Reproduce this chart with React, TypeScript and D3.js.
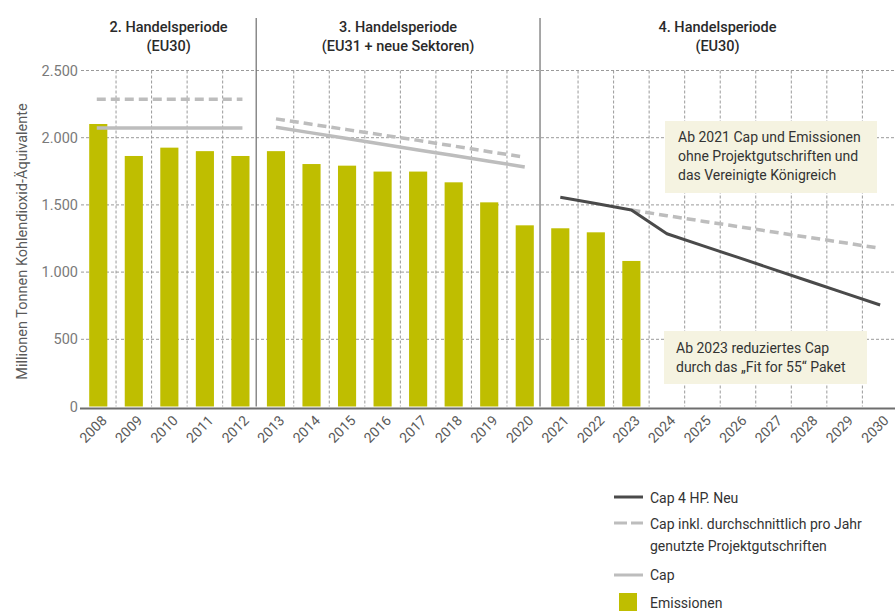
import React from "react";
import * as d3 from "d3";

// Jahre und Werte (Mio. t CO2-Äq.)
const years = d3.range(2008, 2031).map(String);
const emissionYears = d3.range(2008, 2024).map(String);
const emissions = [2102, 1864, 1926, 1900, 1864, 1900, 1804, 1792, 1748, 1748, 1668, 1519, 1348, 1326, 1296, 1083];

// 2. Handelsperiode
const capP2Years = ["2008", "2012"];
const capP2 = [2072, 2072];
const capCreditsP2 = [2286, 2286];

// 3. Handelsperiode
const p3Years = ["2013", "2014", "2015", "2016", "2017", "2018", "2019", "2020"];
const capP3 = [2078, 2036, 1994, 1952, 1909, 1867, 1825, 1782];
const capCreditsP3 = [2140, 2100, 2060, 2020, 1980, 1938, 1896, 1855];

// 4. Handelsperiode
const p4Years = ["2021", "2022", "2023", "2024", "2025", "2026", "2027", "2028", "2029", "2030"];
const capNewP4 = [1557, 1510, 1462, 1285, 1197, 1109, 1020, 932, 843, 755];
const p4CreditYears = ["2023", "2024", "2025", "2026", "2027", "2028", "2029", "2030"];
const capCreditsP4 = [1462, 1420, 1379, 1339, 1298, 1258, 1218, 1177];

const yTicks = [0, 500, 1000, 1500, 2000, 2500];
const periodBreaks = ["2013", "2021"];

const W = 895;
const H = 611;
const FONT = "Roboto, 'DejaVu Sans', sans-serif";

const C_BAR = "#bfbe00";
const C_CAP = "#bdbdbd";
const C_NEW = "#4a4a4a";
const C_GRID = "#9a9a9a";
const C_BOX = "#f5f3e1";

export default function App() {
  const x = d3.scaleBand<string>().domain(years).range([80.5, 80.5 + 23 * 35.54]).padding(0);
  const y = d3.scaleLinear().domain([0, 2500]).range([406.5, 70.5]);
  const bw = x.bandwidth();
  const cx = (yr: string) => (x(yr) as number) + bw / 2;
  const barW = bw * 0.51;

  const line = (ys: string[], vs: number[]) =>
    d3.line<number>().x((_, i) => cx(ys[i])).y((v) => y(v))(vs) as string;

  // Linien der 2. Periode leicht über die Balkenmitte hinaus
  const p2Line = (vs: number[]) =>
    d3.line<number>().x((_, i) => (i === 0 ? cx(capP2Years[0]) - 1.5 : cx(capP2Years[1]) + 2)).y((v) => y(v))(vs) as string;

  const left = 81;
  const right = W;

  const headers = [
    { l1: "2. Handelsperiode", l2: "(EU30)", x0: left, x1: (x("2013") as number) - 2 },
    { l1: "3. Handelsperiode", l2: "(EU31 + neue Sektoren)", x0: (x("2013") as number) - 2, x1: (x("2021") as number) - 2.5 },
    { l1: "4. Handelsperiode", l2: "(EU30)", x0: (x("2021") as number) - 2.5, x1: right },
  ];

  return (
    <svg width={W} height={H} style={{ position: "absolute", left: 0, top: 0, background: "#fff" }} fontFamily={FONT}>
      {/* horizontale Gitterlinien */}
      {yTicks.filter((t) => t > 0).map((t) => (
        <line key={t} x1={left} x2={right} y1={y(t)} y2={y(t)} stroke={C_GRID} strokeWidth={1} strokeDasharray="3,2" />
      ))}
      {/* vertikale Gitterlinien zwischen den Jahren */}
      {years.slice(1).filter((yr) => !periodBreaks.includes(yr)).map((yr) => (
        <line key={yr} x1={x(yr) as number} x2={x(yr) as number} y1={y(2500)} y2={y(0)} stroke={C_GRID} strokeWidth={1} strokeDasharray="3,2" />
      ))}

      {/* Periodentrenner */}
      {periodBreaks.map((yr, i) => {
        const px = (x(yr) as number) - (i === 0 ? 2 : 2.5);
        return <line key={yr} x1={px} x2={px} y1={18} y2={y(0)} stroke="#6e6e6e" strokeWidth={1.2} />;
      })}

      {/* Y-Achse */}
      {yTicks.map((t) => (
        <text key={t} x={78} y={y(t)} dy="0.35em" textAnchor="end" fontSize={14.5} fill="#7a7a7a">
          {d3.format(",")(t).replace(/,/g, ".")}
        </text>
      ))}
      <text
        transform={`translate(22, ${241.5}) rotate(-90)`}
        textAnchor="middle"
        dy="0.35em"
        fontSize={14.5}
        fill="#5a5a5a"
      >
        Millionen Tonnen Kohlendioxid-Äquivalente
      </text>

      {/* Emissionen */}
      {emissionYears.map((yr, i) => (
        <rect key={yr} x={cx(yr) - barW / 2} y={y(emissions[i])} width={barW} height={y(0) - y(emissions[i])} fill={C_BAR} />
      ))}

      {/* Grundlinie */}
      <line x1={left - 1} x2={right} y1={408.5} y2={408.5} stroke="#6e6e6e" strokeWidth={2} />

      {/* Cap-Linien */}
      <path d={p2Line(capCreditsP2)} fill="none" stroke={C_CAP} strokeWidth={3.5} strokeDasharray="9,5" />
      <path d={p2Line(capP2)} fill="none" stroke={C_CAP} strokeWidth={3.5} />
      <path d={line(p3Years, capCreditsP3)} fill="none" stroke={C_CAP} strokeWidth={3.5} strokeDasharray="9,5" />
      <path d={line(p3Years, capP3)} fill="none" stroke={C_CAP} strokeWidth={3.5} />
      <path d={line(p4CreditYears, capCreditsP4)} fill="none" stroke={C_CAP} strokeWidth={3.5} strokeDasharray="9,5" />
      <path d={line(p4Years, capNewP4)} fill="none" stroke={C_NEW} strokeWidth={3} strokeLinejoin="round" />

      {/* X-Achse */}
      {years.map((yr) => (
        <text
          key={yr}
          transform={`translate(${cx(yr) + 6}, ${418}) rotate(-45)`}
          textAnchor="end"
          dy="0.35em"
          fontSize={14}
          fill="#5a5a5a"
        >
          {yr}
        </text>
      ))}

      {/* Periodenüberschriften */}
      {headers.map((h) => (
        <g key={h.l1} fontSize={14.5} fontWeight={500} fill="#2a2a2a" textAnchor="middle">
          <text x={(h.x0 + h.x1) / 2} y={27} dy="0.35em">{h.l1}</text>
          <text x={(h.x0 + h.x1) / 2} y={46} dy="0.35em">{h.l2}</text>
        </g>
      ))}

      {/* Hinweisboxen */}
      <rect x={665} y={121} width={212} height={72} fill={C_BOX} />
      <g fontSize={14} fill="#333">
        <text x={678} y={137} dy="0.35em">Ab 2021 Cap und Emissionen</text>
        <text x={678} y={156} dy="0.35em">ohne Projektgutschriften und</text>
        <text x={678} y={175} dy="0.35em">das Vereinigte Königreich</text>
      </g>
      <rect x={664} y={331} width={203} height={53} fill={C_BOX} />
      <g fontSize={14} fill="#333">
        <text x={676} y={348} dy="0.35em">Ab 2023 reduziertes Cap</text>
        <text x={676} y={367} dy="0.35em">durch das „Fit for 55“ Paket</text>
      </g>

      {/* Legende */}
      <g fontSize={14} fill="#333">
        <line x1={614} x2={643} y1={497} y2={497} stroke={C_NEW} strokeWidth={3} />
        <text x={650} y={498} dy="0.35em">Cap 4 HP. Neu</text>
        <line x1={614} x2={643} y1={523} y2={523} stroke={C_CAP} strokeWidth={3} strokeDasharray="13,4" />
        <text x={650} y={524} dy="0.35em">Cap inkl. durchschnittlich pro Jahr</text>
        <text x={650} y={546} dy="0.35em">genutzte Projektgutschriften</text>
        <line x1={614} x2={643} y1={575} y2={575} stroke={C_CAP} strokeWidth={3} />
        <text x={650} y={575} dy="0.35em">Cap</text>
        <rect x={619} y={593} width={18} height={18} fill={C_BAR} />
        <text x={650} y={603} dy="0.35em">Emissionen</text>
      </g>
    </svg>
  );
}
